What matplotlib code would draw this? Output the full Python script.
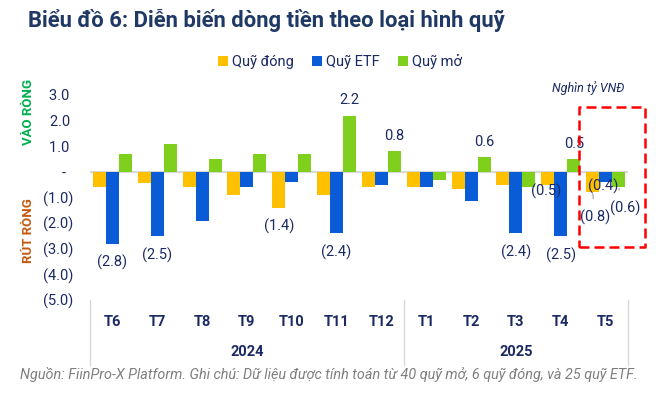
import matplotlib
matplotlib.use("Agg")
import matplotlib.pyplot as plt
import numpy as np
from matplotlib.ticker import FuncFormatter

plt.rcParams["font.family"] = ["Roboto", "DejaVu Sans"]

months = ["T6", "T7", "T8", "T9", "T10", "T11", "T12", "T1", "T2", "T3", "T4", "T5"]
years = ["2024", "2025"]
year_sizes = [7, 5]
series_names = ["Quỹ đóng", "Quỹ ETF", "Quỹ mở"]
closed_fund = [-0.6, -0.45, -0.6, -0.9, -1.4, -0.9, -0.6, -0.6, -0.65, -0.5, -0.5, -0.8]
etf_fund = [-2.8, -2.5, -1.9, -0.6, -0.4, -2.4, -0.5, -0.6, -1.15, -2.4, -2.5, -0.4]
open_fund = [0.7, 1.1, 0.5, 0.7, 0.7, 2.2, 0.8, -0.3, 0.6, -0.6, 0.5, -0.6]
y_ticks = [3, 2, 1, 0, -1, -2, -3, -4, -5]

colors = ["#FFC000", "#0A5CD6", "#7FD01C"]
navy = "#1B2A63"

# which bars get a value label, with (dx, dy) offset in pixels from bar end
labels = {
    (1, 0): (0, -19), (1, 1): (0, -19), (0, 4): (0, -19), (1, 5): (0, -19),
    (2, 5): (0, 15), (2, 6): (0, 15), (2, 8): (0, 15), (1, 9): (0, -19),
    (0, 10): (-2, -7), (1, 10): (0, -19), (2, 10): (0, 15),
    (1, 11): (-2, -4), (0, 11): (3, -25), (2, 11): (7, -21),
}
leaders = {(0, 11), (2, 11)}

fig = plt.figure(figsize=(6.61, 3.94), dpi=100)
ax = fig.add_axes([90 / 661, 1 - 300 / 394, 538 / 661, 205 / 394])

x = np.arange(len(months))
bw = 0.29
data = [closed_fund, etf_fund, open_fund]
for i, (vals, name, c) in enumerate(zip(data, series_names, colors)):
    ax.bar(x + (i - 1) * bw, vals, width=bw, color=c, label=name, zorder=3)

ax.axhline(0, color="#D9D9D9", lw=1.6, zorder=2)
ax.set_xlim(-0.5, len(months) - 0.5)
ax.set_ylim(-5, 3)
ax.set_yticks(y_ticks)


def fmt(v, _pos=None):
    if abs(v) < 1e-9:
        return "-  "
    return f"{v:.1f} " if v > 0 else f"({-v:.1f})"


ax.yaxis.set_major_formatter(FuncFormatter(fmt))
ax.tick_params(axis="y", length=0, pad=12, labelsize=10.5, labelcolor=navy)
ax.set_xticks([])
for s in ax.spines.values():
    s.set_visible(False)

px = 72 / 100
for (si, mi), (dx, dy) in labels.items():
    v = data[si][mi]
    txt = f"{v:.1f}" if v > 0 else f"({-v:.1f})"
    xp = mi + (si - 1) * bw
    ap = None
    if (si, mi) in leaders:
        ap = dict(arrowstyle="-", color="#A6A6A6", lw=0.9, shrinkA=6, shrinkB=1)
    ax.annotate(txt, (xp, v), xytext=(dx * px, dy * px), textcoords="offset points",
                ha="center", va="center", fontsize=10.5, color=navy,
                arrowprops=ap, zorder=5)

# category axis: months, years and separators
trans = ax.get_xaxis_transform()
for i, m in enumerate(months):
    ax.text(i, -22 / 205, m, transform=trans, ha="center", va="center",
            fontsize=10.5, fontweight="bold", color=navy)
start = 0
ax.plot([-0.5, -0.5], [0, -65 / 205], transform=trans, color="#D9D9D9", lw=1, clip_on=False)
for yr, n in zip(years, year_sizes):
    ax.text(start + (n - 1) / 2, -52 / 205, yr, transform=trans, ha="center", va="center",
            fontsize=10.5, fontweight="bold", color=navy)
    start += n
    ax.plot([start - 0.5, start - 0.5], [0, -65 / 205], transform=trans,
            color="#D9D9D9", lw=1, clip_on=False)

# highlight box around the latest month
bx0, bx1, by0, by1 = 10.415, 11.885, -2.93, 2.54
ax.plot([bx0, bx1, bx1, bx0, bx0], [by0, by0, by1, by1, by0], color="#FF0000", lw=1.8,
        ls=(0, (4, 2)), clip_on=False, zorder=6)

fig.text(28 / 661, 1 - 20 / 394, "Biểu đồ 6: Diễn biến dòng tiền theo loại hình quỹ",
         fontsize=15.8, fontweight="bold", color="#1F3864", va="center", ha="left")
fig.legend(loc="center", bbox_to_anchor=(340 / 661, 1 - 62 / 394), ncol=3, frameon=False,
           fontsize=10.5, handlelength=0.7, handleheight=0.7, handletextpad=0.3,
           columnspacing=1.2, labelcolor=navy)
fig.text(588 / 661, 1 - 88 / 394, "Nghìn tỷ VNĐ", fontsize=9, style="italic", color=navy,
         ha="center", va="center")
fig.text(29 / 661, 1 - 112 / 394, "VÀO RÒNG", rotation=90, fontsize=9.5, fontweight="bold",
         color="#00B050", ha="center", va="center")
fig.text(29 / 661, 1 - 231 / 394, "RÚT RÒNG", rotation=90, fontsize=9.5, fontweight="bold",
         color="#C55A11", ha="center", va="center")
fig.text(20 / 661, 1 - 374 / 394,
         "Nguồn: FiinPro-X Platform. Ghi chú: Dữ liệu được tính toán từ 40 quỹ mở, 6 quỹ đóng, và 25 quỹ ETF.",
         fontsize=10.4, style="italic", color="#7F7F7F", ha="left", va="center")

fig.savefig("out.png", dpi=100)
